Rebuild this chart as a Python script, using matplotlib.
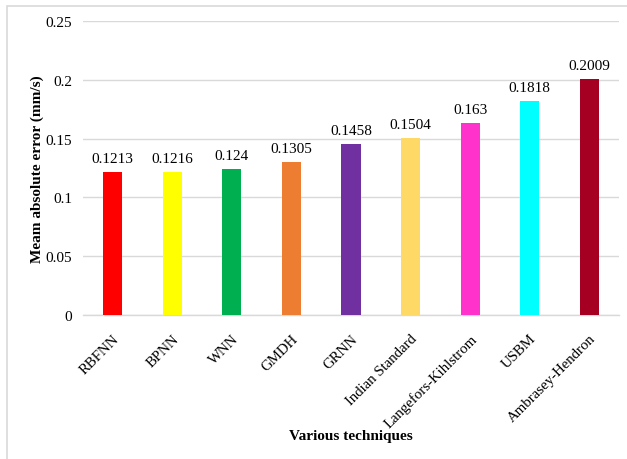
import matplotlib
matplotlib.use("Agg")
import matplotlib.pyplot as plt
from matplotlib.patches import Rectangle

categories = ["RBFNN", "BPNN", "WNN", "GMDH", "GRNN", "Indian Standard",
              "Langefors-Kihlstrom", "USBM", "Ambrasey-Hendron"]
values = [0.1213, 0.1216, 0.124, 0.1305, 0.1458, 0.1504, 0.163, 0.1818, 0.2009]
labels = ["0.1213", "0.1216", "0.124", "0.1305", "0.1458", "0.1504", "0.163", "0.1818", "0.2009"]
colors = ["#FF0000", "#FFFF00", "#00B050", "#ED7D31", "#7030A0", "#FFD966",
          "#FF33CC", "#00FFFF", "#A50021"]
yticks = [0, 0.05, 0.1, 0.15, 0.2, 0.25]
ytick_labels = ["0", "0.05", "0.1", "0.15", "0.2", "0.25"]

plt.rcParams['font.family'] = ['Liberation Serif', 'DejaVu Serif']

fig = plt.figure(figsize=(6.27, 4.6), dpi=100)
ax = fig.add_axes([83/627, 1-316/460, (619-83)/627, (316-22)/460])

x = list(range(len(categories)))
ax.bar(x, values, width=0.32, color=colors, zorder=3)
for xi, v, lab in zip(x, values, labels):
    ax.annotate(lab, (xi, v), xytext=(0, 5), textcoords="offset points",
                ha="center", va="bottom", fontsize=11)

ax.set_xlim(-0.5, len(categories) - 0.5)
ax.set_ylim(0, 0.25)
ax.set_yticks(yticks)
ax.set_yticklabels(ytick_labels, fontsize=11)
ax.set_xticks(x)
ax.set_xticklabels(categories, rotation=45, ha="right", rotation_mode="anchor", fontsize=10.7)
ax.tick_params(axis="y", length=0, pad=8)
ax.tick_params(axis="x", length=0, pad=12)
ax.grid(axis="y", color="#D9D9D9", linewidth=1, zorder=0)
for s in ["top", "right", "left"]:
    ax.spines[s].set_visible(False)
ax.spines["bottom"].set_color("#D9D9D9")
ax.spines["bottom"].set_linewidth(1)

ax.set_ylabel("Meam absolute error (mm/s)", fontsize=11, fontweight="bold", labelpad=1)
fig.text((83+619)/2/627, 1-437/460, "Various techniques", ha="center", va="center",
         fontsize=11, fontweight="bold")

fig.patches.append(Rectangle((6.5/627, -0.1), 1.2, 1 - 7/460 + 0.1, transform=fig.transFigure,
                             fill=False, edgecolor="#D9D9D9", linewidth=1.2))

fig.savefig("out.png", dpi=100)
